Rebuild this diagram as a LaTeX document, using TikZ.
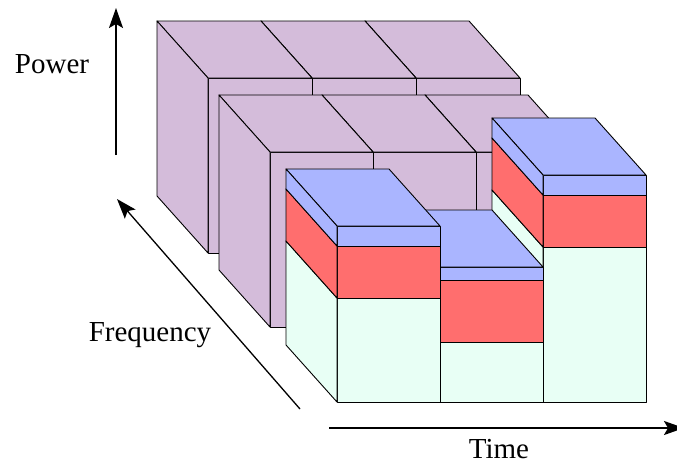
\documentclass[tikz,border=0pt]{standalone}
\usepackage{fontspec}
\setmainfont{Liberation Serif}
\usetikzlibrary{arrows.meta}
\definecolor{lilac}{RGB}{212,188,218}
\definecolor{topblue}{RGB}{170,181,255}
\definecolor{midred}{RGB}{255,110,110}
\definecolor{paleteal}{RGB}{232,255,245}
\begin{document}
\begin{tikzpicture}
    [
    x = 1pt, y = -1pt,
    line join = round,
    pics/blok/.style n args = {3}{code = {
        \filldraw[face, fill = #3] (0,0) rectangle (#1,#2);
        \filldraw[face, fill = #3] (0,0) -- ++(-51,-57) -- ++(#1,0) -- (#1,0) -- cycle;
        \filldraw[face, fill = #3] (0,0) -- ++(-51,-57) -- ++(0,#2) -- (0,#2) -- cycle;
    }},
    ]
    \tikzstyle{face}=[draw=black, line width=0.9pt]
    \tikzstyle{axis arrow}=[line width=1.3pt, -{Stealth[length=20pt, width=14pt, inset=4pt]}]
    \tikzstyle{label text}=[font=\fontsize{29}{34}\selectfont, inner sep=0pt, anchor=base]

    \useasboundingbox (0,0) rectangle (677,464);

    \pic at (416,78) {blok={104}{175}{lilac}};
    \pic at (312,78) {blok={104}{175}{lilac}};
    \pic at (208,78) {blok={104}{175}{lilac}};

    \pic at (476,152) {blok={103}{175}{lilac}};
    \pic at (373,152) {blok={103}{175}{lilac}};
    \pic at (270,152) {blok={103}{175}{lilac}};

    \pic at (543,247) {blok={103}{155}{paleteal}};
    \pic at (543,195) {blok={103}{52}{midred}};
    \pic at (543,175) {blok={103}{20}{topblue}};

    \pic at (440,342) {blok={103}{60}{paleteal}};
    \pic at (440,280) {blok={103}{62}{midred}};
    \pic at (440,267) {blok={103}{13}{topblue}};

    \pic at (337,298) {blok={103}{104}{paleteal}};
    \pic at (337,246) {blok={103}{52}{midred}};
    \pic at (337,226) {blok={103}{20}{topblue}};

    \coordinate (power tail) at (116,155);
    \coordinate (power head) at (116,8);
    \coordinate (freq tail) at (300,409);
    \coordinate (freq head) at (117,199);
    \coordinate (time tail) at (329,428);
    \coordinate (time head) at (684,428);

    \draw[axis arrow] (power tail) -- (power head);
    \draw[axis arrow] (freq tail) -- (freq head);
    \draw[axis arrow, line width=1.8pt] (time tail) -- (time head);

    \node[label text] (power) at (52,73) {Power};
    \node[label text] (frequency) at (150,341) {Frequency};
    \node[label text] (time) at (499,458) {Time};
\end{tikzpicture}
\end{document}
